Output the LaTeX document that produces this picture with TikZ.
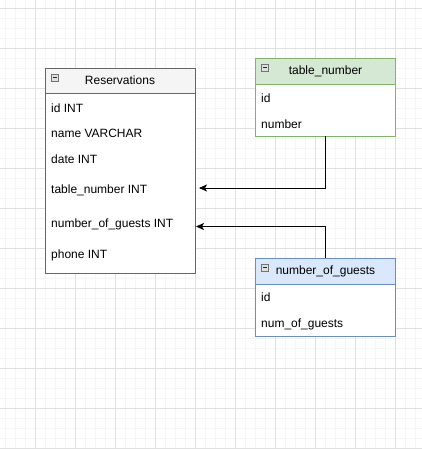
\documentclass[tikz,border=0pt]{standalone}
\usepackage{fontspec}
\setmainfont{Liberation Sans}
\usepackage{xcolor}
\usetikzlibrary{arrows.meta,positioning}

\definecolor{headgray}{HTML}{F5F5F5}
\definecolor{linegray}{HTML}{666666}
\definecolor{greenfill}{HTML}{D5E8D4}
\definecolor{greenline}{HTML}{82B366}
\definecolor{bluefill}{HTML}{DAE8FC}
\definecolor{blueline}{HTML}{6C8EBF}

\begin{document}
\begin{tikzpicture}[
x=1pt,y=-1pt,
font=\fontsize{12pt}{14pt}\selectfont,
minorgrid/.style={draw=black!4,line width=0.8pt},
majorgrid/.style={draw=black!12,line width=0.8pt},
tabletitle/.style={draw,anchor=north west,inner sep=0pt,outer sep=0pt,line width=0.9pt},
tablebody/.style={draw,fill=white,inner sep=0pt,outer sep=0pt,line width=0.9pt},
field/.style={anchor=west,inner sep=0pt},
icon/.style={draw=black!55,fill=black!12,minimum size=7pt,inner sep=0pt,line width=0.6pt,
  path picture={\draw[black!85,line width=0.9pt] ([xshift=1.5pt]path picture bounding box.west) -- ([xshift=-1.5pt]path picture bounding box.east);}},
link/.style={-{Stealth[length=8pt,width=7pt,inset=2pt]},line width=0.9pt}
]
\useasboundingbox[fill=white] (0,0) rectangle (422,449);
% background grid
\foreach \gx in {5.5,15.5,...,415.5} \draw[minorgrid] (\gx,0) -- (\gx,449);
\foreach \gy in {8,18,...,448} \draw[minorgrid] (0,\gy) -- (422,\gy);
\foreach \gx in {35.5,75.5,...,395.5} \draw[majorgrid] (\gx,0) -- (\gx,449);
\foreach \gy in {8,48,...,448} \draw[majorgrid] (0,\gy) -- (422,\gy);

% Reservations
\node[tabletitle,draw=linegray,fill=headgray,minimum width=150pt,minimum height=25pt] (restitle) at (45,68) {Reservations};
\node[tablebody,draw=linegray,below=0pt of restitle,minimum width=150pt,minimum height=180pt] (resbody) {};
\node[icon] at ([xshift=9.5pt,yshift=-9.5pt]restitle.north west) {};
\node[field] (resid) at (51,108) {id INT};
\node[field] (resname) at (51,133) {name VARCHAR};
\node[field] (resdate) at (51,159) {date INT};
\node[field] (restn) at (51,190) {table\_number INT};
\node[field] (resng) at (51,224) {number\_of\_guests INT};
\node[field] (resphone) at (51,255) {phone INT};

% table_number
\node[tabletitle,draw=greenline,fill=greenfill,minimum width=140pt,minimum height=26pt] (tntitle) at (255.5,58) {table\_number};
\node[tablebody,draw=greenline,below=0pt of tntitle,minimum width=140pt,minimum height=52pt] (tnbody) {};
\node[icon] at ([xshift=9.5pt,yshift=-9.5pt]tntitle.north west) {};
\node[field] (tnid) at (261,98) {id};
\node[field] (tnnum) at (261,124) {number};

% number_of_guests
\node[tabletitle,draw=blueline,fill=bluefill,minimum width=140pt,minimum height=26pt] (ngtitle) at (255.5,258) {number\_of\_guests};
\node[tablebody,draw=blueline,below=0pt of ngtitle,minimum width=140pt,minimum height=52pt] (ngbody) {};
\node[icon] at ([xshift=9.5pt,yshift=-9.5pt]ngtitle.north west) {};
\node[field] (ngid) at (261,297) {id};
\node[field] (ngnum) at (261,324) {num\_of\_guests};

% links
\coordinate (tnin) at (199,188);
\coordinate (ngin) at (196,226.5);
\draw[link] (tnbody.south) |- (tnin);
\draw[link] (ngtitle.north) |- (ngin);
\end{tikzpicture}
\end{document}
